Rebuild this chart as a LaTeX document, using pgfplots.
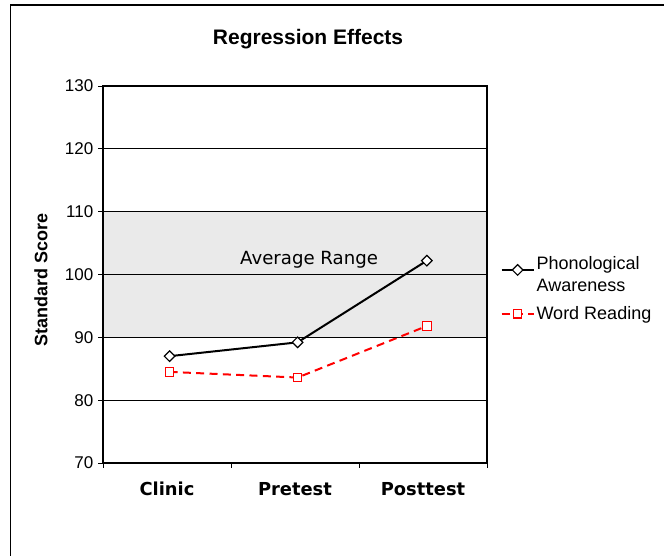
\documentclass[border=0pt]{standalone}
\usepackage{fontspec}
\setmainfont{Liberation Sans}
\newfontfamily\dejavu{DejaVu Sans}
\usepackage{pgfplots}
\pgfplotsset{compat=1.18}
\definecolor{band}{RGB}{234,234,234}
\begin{document}
\begin{tikzpicture}
\useasboundingbox (0,0) rectangle (498pt,417pt);
\draw[line width=1.2pt] (7.9pt,-10pt) -- (7.9pt,413.25pt) -- (510pt,413.25pt);
\begin{axis}[
 at={(77.25pt,69.75pt)}, anchor=south west,
 scale only axis, width=288pt, height=282.75pt,
 xmin=-0.5, xmax=2.5, ymin=70, ymax=130,
 ytick={70,80,...,130},
 xtick={-0.5,0.5,1.5,2.5},
 xticklabels={Clinic,Pretest,Posttest,},
 tick align=outside, tick pos=left, major tick length=3.75pt,
 tick style={black, line width=0.7pt},
 ymajorgrids, grid style={black, line width=0.6pt},
 axis line style={line width=0.9pt},
 axis on top,
 /pgf/number format/assume math mode=true,
 y tick label style={font=\fontsize{12.75}{14}\selectfont},
 x tick label style={font=\dejavu\bfseries\fontsize{13.4}{15}\selectfont, xshift=48pt, yshift=-7pt},
 ylabel={Standard Score},
 ylabel style={font=\bfseries\fontsize{13.5}{15}\selectfont, at={(axis description cs:-0.1615,0.485)}, anchor=center},
 title={Regression Effects},
 title style={font=\bfseries\fontsize{15.75}{18}\selectfont, at={(axis description cs:0.534,1.103)}, anchor=center},
 legend style={draw=none, fill=none, at={(axis description cs:1.035,0.554)}, anchor=north west,
   font=\fontsize{13.5}{14}\selectfont, row sep=14pt, inner sep=0pt, nodes={inner sep=1.5pt}},
 legend cell align=left,
 legend image code/.code={\draw[mark repeat=2,mark phase=2,#1] plot coordinates {(0cm,0cm) (0.42cm,0cm) (0.84cm,0cm)};},
]
\addplot[draw=none, fill=band, forget plot] coordinates {(-0.5,90) (2.5,90) (2.5,110) (-0.5,110)} -- cycle;
\node[font=\dejavu\fontsize{13.6}{16}\selectfont] at (axis cs:1.11,102.3) {Average Range};
\addplot[color=black, line width=1.5pt, mark=square*, mark size=2.8pt, mark options={rotate=45, fill=white, solid, line width=0.9pt}] coordinates {(0.02,87.0) (1.02,89.2) (2.03,102.2)};
\addlegendentry{\begin{tabular}{@{}l@{}}Phonological\\[2.5pt]Awareness\end{tabular}}
\addplot[color=red, line width=1.5pt, dash pattern=on 6pt off 4pt, mark=square*, mark size=3.2pt, mark options={solid, line width=0.8pt, /tikz/draw=red, /tikz/fill=white}] coordinates {(0.02,84.5) (1.02,83.6) (2.03,91.8)};
\addlegendentry{Word Reading}
\end{axis}
\end{tikzpicture}
\end{document}
